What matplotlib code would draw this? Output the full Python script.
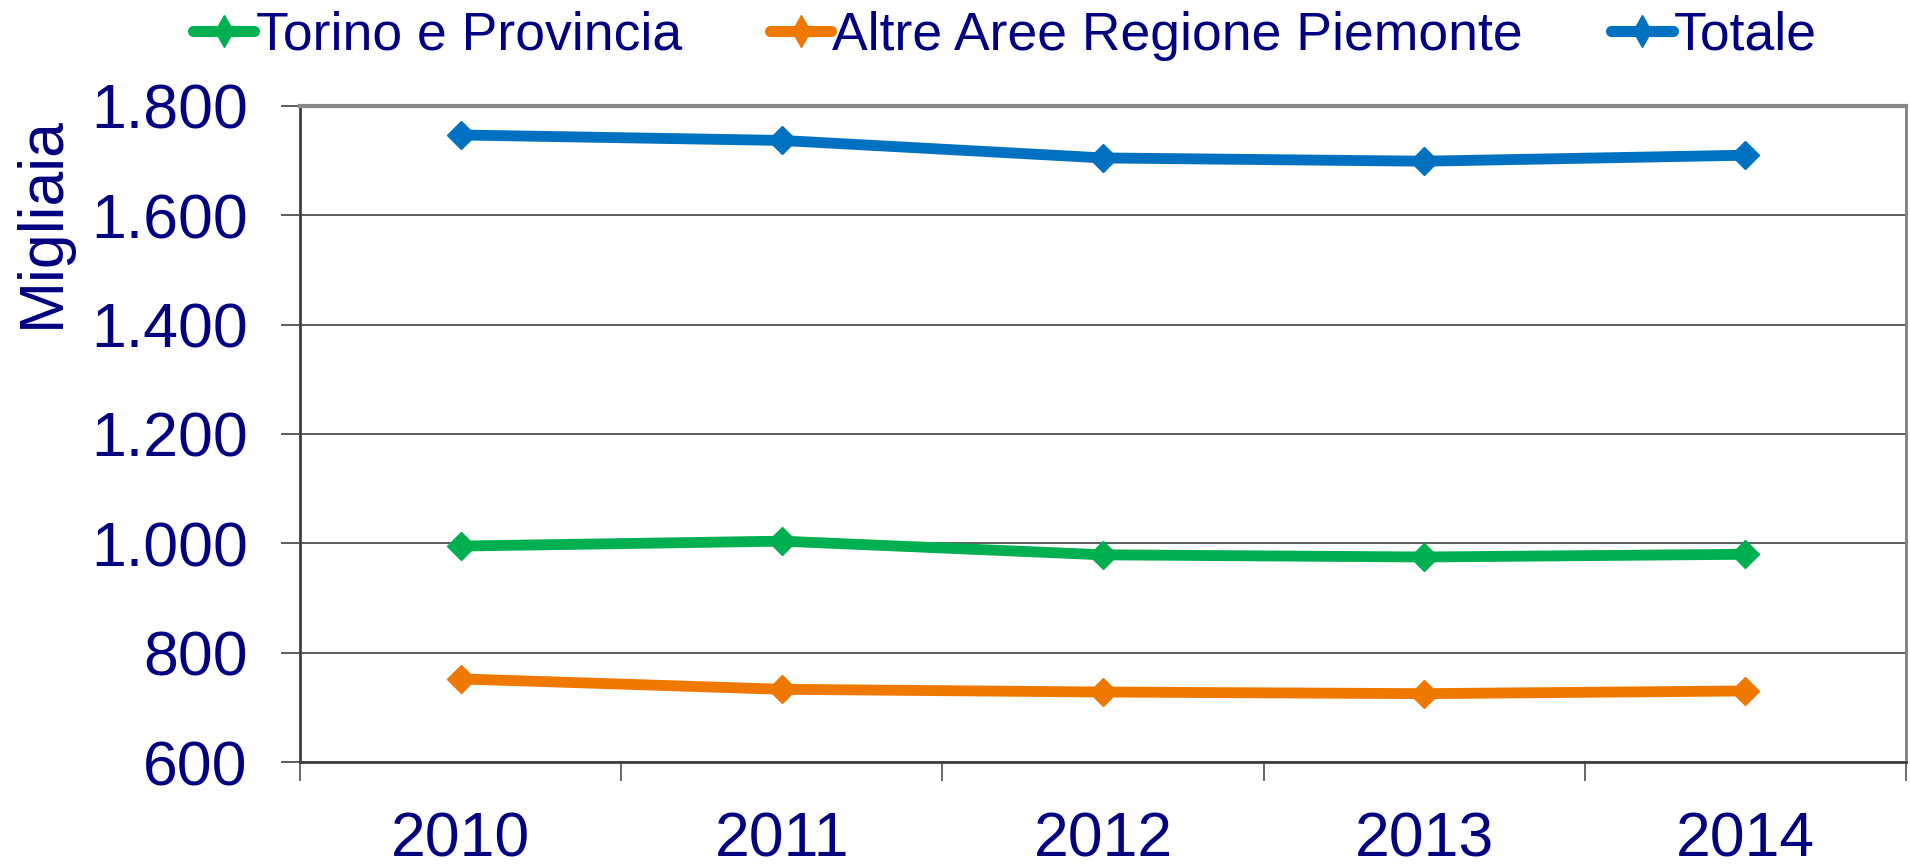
import matplotlib
matplotlib.use("Agg")
import matplotlib.pyplot as plt
from matplotlib.lines import Line2D
from matplotlib.ticker import FixedLocator, FuncFormatter, NullFormatter

plt.rcParams['font.family'] = ['Liberation Sans', 'DejaVu Sans']

# data (migliaia)
anni = ['2010', '2011', '2012', '2013', '2014']
torino = [995, 1004, 979, 975, 980]
altre = [752, 733, 728, 725, 730]
totale = [1747, 1737, 1705, 1699, 1710]

serie = [
    ('Torino e Provincia', torino, '#00B050'),
    ('Altre Aree Regione Piemonte', altre, '#EE7800'),
    ('Totale', totale, '#0070C0'),
]
navy = '#000080'

W, H, DPI = 1910, 866, 100
fig = plt.figure(figsize=(W / DPI, H / DPI), dpi=DPI)
ax = fig.add_axes([300 / W, 1 - 762 / H, 1606 / W, 656 / H])

x = list(range(len(anni)))
for nome, vals, col in serie:
    ax.plot(x, vals, color=col, lw=7.8, marker='D', ms=14.5,
            solid_joinstyle='round', zorder=3)

ax.set_xlim(-0.5, len(anni) - 0.5)
ax.set_ylim(600, 1800)

# y axis
ax.yaxis.set_major_locator(FixedLocator(range(600, 1801, 200)))
ax.yaxis.set_major_formatter(FuncFormatter(lambda v, p: f"{v:,.0f}".replace(",", ".")))
ax.grid(axis='y', color='#303030', lw=1.1, zorder=1)
ax.tick_params(axis='y', length=13.7, width=1.1, color='#303030', pad=24,
               labelsize=45, labelcolor=navy)

# x axis: ticks on category borders, labels at centers
ax.xaxis.set_major_locator(FixedLocator([i - 0.5 for i in range(len(anni) + 1)]))
ax.xaxis.set_major_formatter(NullFormatter())
ax.xaxis.set_minor_locator(FixedLocator(x))
ax.xaxis.set_minor_formatter(FuncFormatter(lambda v, p: anni[int(round(v))]))
ax.tick_params(axis='x', which='major', length=13.7, width=1.1, color='#404040')
ax.tick_params(axis='x', which='minor', length=0, pad=35, labelsize=45, labelcolor=navy)

for s in ['left', 'bottom']:
    ax.spines[s].set_color('#404040')
    ax.spines[s].set_linewidth(2)
ax.spines['right'].set_color('#808080')
ax.spines['right'].set_linewidth(2)
ax.spines['top'].set_color('#888888')
ax.spines['top'].set_linewidth(3)

fig.text(42 / W, 1 - 222 / H, 'Migliaia', rotation=90, ha='center', va='center',
         fontsize=45, color=navy)

handles = [Line2D([], [], color=col, lw=8, marker='d', ms=16,
                  solid_capstyle='round') for _, _, col in serie]
leg = fig.legend(handles, [s[0] for s in serie], loc='center left',
                 bbox_to_anchor=(193 / W, 1 - 36 / H), ncol=3, frameon=False,
                 fontsize=38.5, handlelength=1.15, handletextpad=0.02,
                 columnspacing=1.65, borderpad=0, borderaxespad=0)
for t in leg.get_texts():
    t.set_color(navy)

fig.savefig('out.png', dpi=DPI)
